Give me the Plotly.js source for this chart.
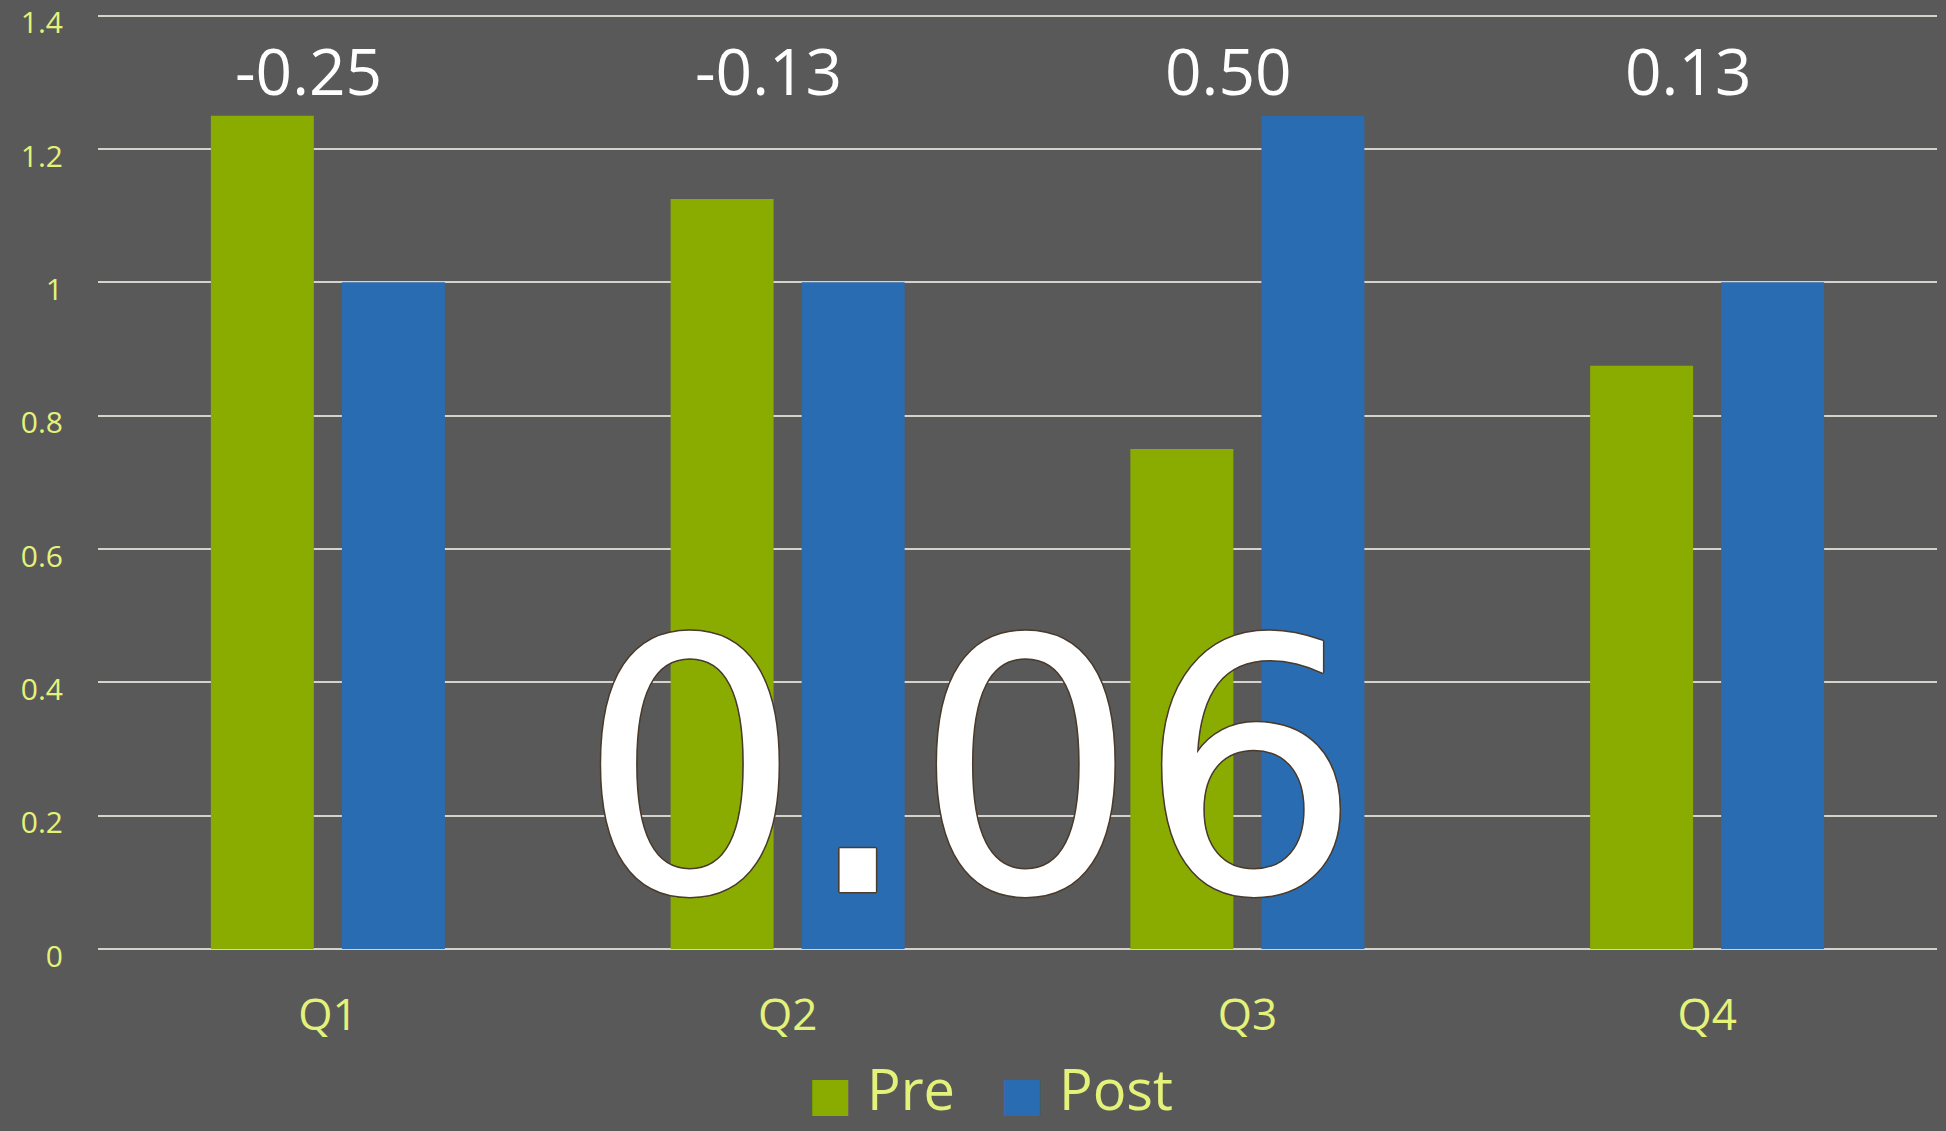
<!DOCTYPE html>
<html>
<head>
<meta charset="utf-8">
<script src="https://cdn.plot.ly/plotly-3.0.1.min.js"></script>
<style>
  html, body { margin: 0; padding: 0; background: #595959; }
  #chart { width: 1946px; height: 1131px; }
</style>
</head>
<body>
<div id="chart"></div>
<script>
// ---- data ----
const categories = ['Q1', 'Q2', 'Q3', 'Q4'];
const preValues  = [1.25, 1.125, 0.75, 0.875];
const postValues = [1.0, 1.0, 1.25, 1.0];
const seriesNames = ['Pre', 'Post'];
const yTicks = [0, 0.2, 0.4, 0.6, 0.8, 1, 1.2, 1.4];

// ---- styles ----
const GREEN = '#8aab00';
const BLUE = '#2a6cb1';
const BG = '#595959';
const LABEL = '#e4f27a';
const GRID = '#d6d2cc';
const FONT = 'Open Sans, Noto Sans, sans-serif';

const diffs = categories.map((c, i) => postValues[i] - preValues[i]);
const meanDiff = diffs.reduce((a, b) => a + b, 0) / diffs.length;

const SQ = (col) => '<span style="color:' + col + ';font-family:DejaVu Sans;font-size:47px">■</span> ';

const traces = [
  { type: 'bar', x: categories, y: preValues, name: seriesNames[0],
    marker: { color: GREEN }, showlegend: false, hoverinfo: 'x+y' },
  { type: 'bar', x: categories, y: postValues, name: seriesNames[1],
    marker: { color: BLUE }, showlegend: false, hoverinfo: 'x+y' },
  // legend entries (large square glyph drawn in the label)
  { type: 'scatter', mode: 'markers', x: [null], y: [null], showlegend: true,
    marker: { color: 'rgba(0,0,0,0)' }, name: SQ(GREEN) + seriesNames[0] },
  { type: 'scatter', mode: 'markers', x: [null], y: [null], showlegend: true,
    marker: { color: 'rgba(0,0,0,0)' }, name: SQ(BLUE) + seriesNames[1] }
];

const annotations = categories.map((c, i) => ({
  xref: 'x', yref: 'paper', x: c, y: 0.935, xanchor: 'center', yanchor: 'middle',
  xshift: -19, showarrow: false, text: diffs[i].toFixed(2),
  font: { family: FONT, size: 64, color: '#ffffff' }
}));
const OUT = '#4a3b2c';
annotations.push({
  xref: 'paper', yref: 'paper', x: 0.474, y: 0.19, xanchor: 'center', yanchor: 'middle',
  height: 300, valign: 'middle',
  showarrow: false, text: meanDiff.toFixed(2),
  font: { family: 'DejaVu Sans, sans-serif', size: 352, color: '#ffffff',
    shadow: '1.5px 0 0 ' + OUT + ', -1.5px 0 0 ' + OUT + ', 0 1.5px 0 ' + OUT + ', 0 -1.5px 0 ' + OUT +
            ', 1px 1px 0 ' + OUT + ', -1px -1px 0 ' + OUT + ', 1px -1px 0 ' + OUT + ', -1px 1px 0 ' + OUT }
});

const layout = {
  width: 1946, height: 1131,
  paper_bgcolor: BG, plot_bgcolor: BG,
  margin: { l: 98, r: 9, t: 9, b: 182 },
  barmode: 'group', bargap: 0.43, bargroupgap: 0.214,
  font: { family: FONT, color: LABEL },
  xaxis: {
    type: 'category', categoryarray: categories, categoryorder: 'array',
    showgrid: false, showline: false, zeroline: false, ticks: '',
    tickfont: { family: FONT, size: 44, color: LABEL },
    ticklabelstandoff: 36
  },
  yaxis: {
    range: [0, 1.41], tickvals: yTicks, ticks: '',
    showgrid: true, gridcolor: GRID, gridwidth: 2,
    zeroline: true, zerolinecolor: GRID, zerolinewidth: 2,
    showline: false, ticklabeloverflow: 'allow', ticklabelshift: 7,
    tickfont: { family: FONT, size: 30, color: LABEL },
    ticklabelstandoff: 34
  },
  legend: {
    orientation: 'h', xref: 'container', yref: 'container',
    x: 0.5, xanchor: 'center', y: -0.008, yanchor: 'bottom',
    font: { family: FONT, size: 56, color: LABEL },
    bgcolor: 'rgba(0,0,0,0)', itemwidth: 30
  },
  annotations: annotations,
  showlegend: true
};

Plotly.newPlot('chart', traces, layout, { displayModeBar: false, staticPlot: true });
</script>
</body>
</html>
